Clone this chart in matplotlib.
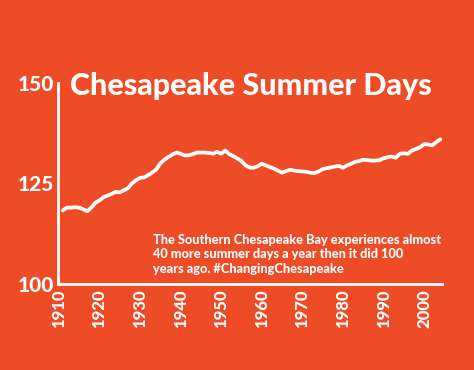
import matplotlib

matplotlib.use("Agg")
import matplotlib.pyplot as plt

# Southern Chesapeake Bay: number of summer days per year (smoothed)
years = list(range(1911, 2005))
summer_days = [
    118.3, 119.0, 119.0, 119.1, 119.0, 118.6, 118.1, 119.0, 120.2, 120.8,  # 1911-1920
    121.6, 122.0, 122.4, 122.9, 122.8, 123.3, 123.8, 125.0, 125.8, 126.4,  # 1921-1930
    126.5, 127.1, 127.7, 128.5, 130.0, 130.9, 131.6, 132.2, 132.7, 132.4,  # 1931-1940
    132.0, 132.0, 132.3, 132.7, 132.7, 132.7, 132.6, 132.4, 132.9, 132.4,  # 1941-1950
    133.2, 132.3, 131.8, 131.2, 130.6, 129.5, 129.0, 128.9, 129.3, 129.9,  # 1951-1960
    129.5, 129.1, 128.7, 128.2, 127.7, 128.1, 128.4, 128.2, 128.1, 128.0,  # 1961-1970
    127.9, 127.7, 127.6, 128.0, 128.6, 128.8, 129.0, 129.2, 129.4, 128.9,  # 1971-1980
    129.5, 129.9, 130.4, 130.6, 130.9, 130.8, 130.7, 130.7, 130.8, 131.3,  # 1981-1990
    131.5, 131.7, 131.4, 132.4, 132.5, 132.4, 133.2, 133.6, 134.0, 134.8,  # 1991-2000
    134.7, 134.5, 135.3, 136.0,  # 2001-2004
]
year_ticks = list(range(1910, 2001, 10))
day_ticks = [100, 125, 150]

title = "Chesapeake Summer Days"
note = ("The Southern Chesapeake Bay experiences almost\n"
        "40 more summer days a year then it did 100\n"
        "years ago. #ChangingChesapeake")

BG = "#EE4B27"
FONT = ["Lato", "Liberation Sans Narrow", "DejaVu Sans"]


def fit_width(fig, txt, target_px):
    # scale a text's font size so that it spans target_px pixels
    r = fig.canvas.get_renderer()
    w = txt.get_window_extent(renderer=r).width
    txt.set_fontsize(txt.get_fontsize() * target_px / w)


fig = plt.figure(figsize=(4.74, 3.70), dpi=100, facecolor=BG)
ax = fig.add_axes([58 / 474, 1 - 284 / 370, 384 / 474, 201 / 370])
ax.set_facecolor(BG)

ax.plot(years, summer_days, color="white", lw=2.7, solid_capstyle="round",
        solid_joinstyle="round")

ax.set_xlim(1909.8, 2004.4)
ax.set_ylim(100, 150)
ax.set_xticks(year_ticks)
ax.set_yticks(day_ticks)
ax.tick_params(length=0, colors="white", pad=3)
ax.tick_params(axis="x", pad=4)
for lab in ax.get_xticklabels():
    lab.set_rotation(90)
    lab.set_fontsize(12)
    lab.set_fontweight("black")
    lab.set_family(FONT)
    lab.set_va("top")
for lab in ax.get_yticklabels():
    lab.set_fontsize(15)
    lab.set_fontweight("black")
    lab.set_family(FONT)

for side in ("top", "right"):
    ax.spines[side].set_visible(False)
for side in ("left", "bottom"):
    ax.spines[side].set_color("white")
    ax.spines[side].set_linewidth(2)

t = fig.text(70 / 474, 1 - 95 / 370, title, color="white", fontsize=22,
             fontweight="black", family=FONT, ha="left", va="baseline")
fit_width(fig, t, 362)

n = fig.text(153 / 474, 1 - 234 / 370, note, color="white", fontsize=9,
             fontweight="black", family=FONT, ha="left", va="top",
             linespacing=1.25)
fit_width(fig, n, 288)

fig.savefig("out.png", dpi=100, facecolor=BG)
